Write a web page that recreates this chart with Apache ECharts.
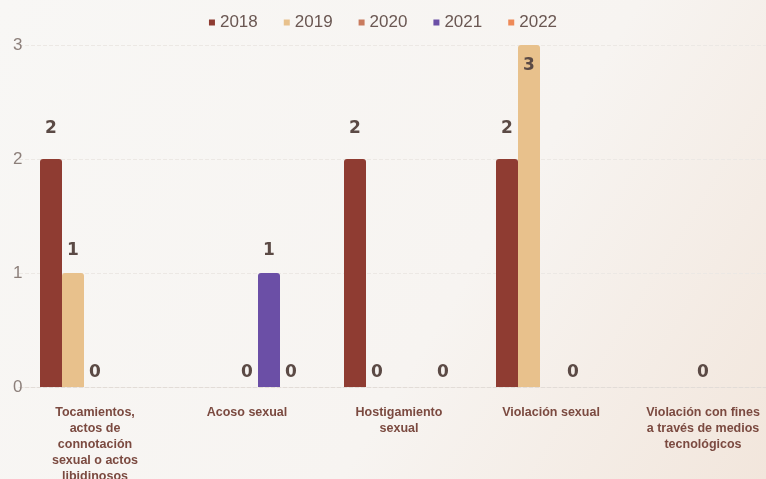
<!DOCTYPE html>
<html>
<head>
<meta charset="utf-8">
<title>Casos por tipo y año</title>
<script src="https://cdn.jsdelivr.net/npm/echarts@6/dist/echarts.min.js"></script>
<style>
  html, body { margin: 0; padding: 0; background: #f7f5f2; }
  #chart-box { width: 766px; height: 479px; }
</style>
</head>
<body>
<div id="chart-box"></div>
<script>
// categorias del eje x (con saltos de linea como en la imagen)
const categories = [
  "Tocamientos,\nactos de\nconnotación\nsexual o actos\nlibidinosos",
  "Acoso sexual",
  "Hostigamiento\nsexual",
  "Violación sexual",
  "Violación con fines\na través de medios\ntecnológicos",
];
const years = ["2018", "2019", "2020", "2021", "2022"];

// valores por año (null = sin dato)
const data2018 = [2, null, 2, 2, null];
const data2019 = [1, null, 0, 3, null];
const data2020 = [0, 0, null, null, 0];
const data2021 = [null, 1, null, 0, null];
const data2022 = [null, 0, 0, null, null];

const yTicks = [0, 1, 2, 3];

const colors = ["#8f3c32", "#e8c18c", "#c97b5e", "#6b4fa6", "#ee8a58"];
const seriesData = [data2018, data2019, data2020, data2021, data2022];
const yMax = yTicks[yTicks.length - 1];

// etiqueta encima de la barra; la del maximo va dentro
function buildItems(arr) {
  return arr.map((v) => {
    if (v === null) return null;
    if (v === yMax) {
      return { value: v, label: { position: "insideTop", distance: 12 } };
    }
    return { value: v, label: { position: "top", distance: 6 + 8 * v } };
  });
}

const chart = echarts.init(document.getElementById("chart-box"));
const option = {
  backgroundColor: new echarts.graphic.LinearGradient(0, 0, 1, 1, [
    { offset: 0, color: "#f8f7f5" },
    { offset: 0.6, color: "#f7f4f1" },
    { offset: 1, color: "#f2e6dc" },
  ]),
  color: colors,
  legend: {
    top: 9,
    left: "center",
    icon: "rect",
    itemWidth: 6,
    itemHeight: 6,
    itemGap: 26,
    textStyle: {
      color: "#6a5752",
      fontSize: 17,
      fontFamily: "Liberation Sans",
    },
    data: years,
  },
  grid: {
    left: 19,
    width: 760,
    top: 45,
    bottom: 92,
    outerBoundsMode: "none",
  },
  xAxis: {
    type: "category",
    data: categories,
    axisLine: {
      show: true,
      lineStyle: { color: "#e2dcd7", type: "dashed" },
    },
    axisTick: { show: false },
    axisLabel: {
      interval: 0,
      margin: 18,
      color: "#7b4a40",
      fontSize: 12.5,
      fontWeight: "bold",
      fontFamily: "Liberation Sans",
      lineHeight: 16,
    },
  },
  yAxis: {
    type: "value",
    min: 0,
    max: yMax,
    interval: 1,
    axisLine: { show: false },
    axisTick: { show: false },
    axisLabel: {
      align: "left",
      margin: 6,
      color: "#8c7f7a",
      fontSize: 17,
      fontFamily: "Liberation Sans",
    },
    splitLine: {
      lineStyle: { color: "#ece8e4", type: "dashed" },
    },
  },
  series: years.map((y, i) => ({
    name: y,
    type: "bar",
    barWidth: 22,
    barGap: "0%",
    data: buildItems(seriesData[i]),
    itemStyle: {
      color: colors[i],
      borderRadius: [3, 3, 0, 0],
    },
    label: {
      show: true,
      color: "#5b4a45",
      fontSize: 17,
      fontWeight: "bold",
      fontFamily: "DejaVu Sans",
    },
  })),
};
chart.setOption(option);
</script>
</body>
</html>
